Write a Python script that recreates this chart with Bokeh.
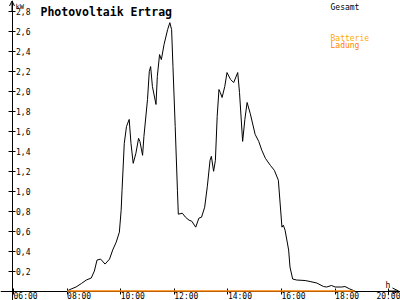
from bokeh.plotting import figure
from bokeh.models import (Range1d, FixedTicker, Label, Arrow, OpenHead)
from bokeh.embed import file_html
from bokeh.resources import INLINE

# ---------------- data ----------------
gesamt_times = ["08:00", "08:09", "08:20", "08:32", "08:43", "08:54", "09:01", "09:07",
                "09:15", "09:25", "09:35", "09:42", "09:50", "09:57", "10:01", "10:03",
                "10:08", "10:13", "10:19", "10:23", "10:28", "10:34", "10:40", "10:43",
                "10:49", "10:52", "11:00", "11:04", "11:07", "11:11", "11:19", "11:22",
                "11:27", "11:31", "11:37", "11:45", "11:50", "11:54", "11:57", "12:02",
                "12:07", "12:09", "12:18", "12:25", "12:33", "12:39", "12:48", "12:55",
                "13:01", "13:08", "13:14", "13:20", "13:23", "13:28", "13:32", "13:36",
                "13:40", "13:43", "13:47", "13:53", "13:58", "14:06", "14:13", "14:22",
                "14:26", "14:33", "14:38", "14:43", "14:50", "15:01", "15:09", "15:16",
                "15:24", "15:35", "15:44", "15:53", "16:01", "16:04", "16:08", "16:16",
                "16:19", "16:25", "16:34", "16:53", "17:04", "17:19", "17:34", "17:41",
                "17:52", "18:00", "18:15", "18:22", "18:33", "18:44"]
gesamt_kw = [0.00, 0.02, 0.04, 0.075, 0.11, 0.13, 0.20, 0.31,
             0.32, 0.27, 0.32, 0.41, 0.49, 0.59, 0.81, 1.01,
             1.48, 1.65, 1.72, 1.48, 1.28, 1.38, 1.53, 1.50,
             1.36, 1.55, 1.92, 2.20, 2.25, 2.05, 1.87, 2.15,
             2.37, 2.32, 2.47, 2.62, 2.69, 2.62, 2.25, 1.65,
             1.01, 0.77, 0.78, 0.74, 0.71, 0.70, 0.64, 0.73,
             0.74, 0.84, 1.05, 1.31, 1.35, 1.20, 1.31, 1.75,
             2.02, 1.99, 1.94, 2.05, 2.19, 2.12, 2.09, 2.19,
             1.99, 1.50, 1.72, 1.89, 1.78, 1.57, 1.50, 1.41,
             1.33, 1.26, 1.21, 1.11, 0.64, 0.66, 0.61, 0.41,
             0.24, 0.12, 0.11, 0.105, 0.095, 0.08, 0.045, 0.04,
             0.055, 0.04, 0.04, 0.045, 0.02, 0.00]
ladung_times = ["08:00", "18:44"]
ladung_kw = [0.0, 0.0]

x_ticks = [6, 8, 10, 12, 14, 16, 18, 20]
x_tick_labels = ["06:00", "08:00", "10:00", "12:00", "14:00", "16:00", "18:00", "20:00"]
y_ticks = [0.2, 0.4, 0.6, 0.8, 1.0, 1.2, 1.4, 1.6, 1.8, 2.0, 2.2, 2.4, 2.6, 2.8]
y_tick_labels = ["0,2", "0,4", "0,6", "0,8", "1,0", "1,2", "1,4", "1,6", "1,8",
                 "2,0", "2,2", "2,4", "2,6", "2,8"]

title_text = "Photovoltaik Ertrag"
legend_texts = ["Gesamt", "Batterie", "Ladung"]
legend_colors = ["#000000", "#FFAA00", "#FF8000"]


def to_h(s):
    hh, mm = s.split(":")
    return int(hh) + int(mm) / 60.0


MONO = "DejaVu Sans Mono"
PX_H = 26.8      # pixels per hour
PX_KW = 99.75    # pixels per kW
X0 = 6 - 13 / PX_H
X1 = X0 + 400 / PX_H
Y1 = 290.5 / PX_KW
Y0 = -9.5 / PX_KW
X_AXIS_AT = 6 - 1.5 / PX_H


def hx(px):
    return X0 + px / PX_H


def vy(py):
    return (290.5 - py) / PX_KW


p = figure(width=400, height=300, output_backend="svg", toolbar_location=None,
           x_range=Range1d(X0, X1), y_range=Range1d(Y0, Y1),
           x_axis_location="below", y_axis_location="right",
           min_border_left=0, min_border_right=0, min_border_top=0, min_border_bottom=0)
p.background_fill_color = "white"
p.border_fill_color = "white"
p.outline_line_color = None
p.xgrid.visible = False
p.ygrid.visible = False

xa = p.xaxis[0]
ya = p.yaxis[0]
xa.fixed_location = 0
ya.fixed_location = X_AXIS_AT
for ax in (xa, ya):
    ax.level = "underlay"
    ax.axis_line_color = "black"
    ax.major_tick_line_color = "black"
    ax.minor_tick_line_color = None
    ax.major_label_text_font = MONO
    ax.major_label_text_font_size = "8px"
    ax.major_label_text_color = "black"
xa.ticker = FixedTicker(ticks=x_ticks)
ya.ticker = FixedTicker(ticks=y_ticks)
xa.major_label_overrides = dict(zip(x_ticks, x_tick_labels))
ya.major_label_overrides = dict(zip(y_ticks, y_tick_labels))
xa.major_tick_in = 3
xa.major_tick_out = 3
xa.major_label_standoff = 2
xa.major_label_orientation = -0.0001
ya.major_tick_in = 4
ya.major_tick_out = 3
ya.major_label_standoff = 1

# series
p.line([to_h(t) for t in gesamt_times], gesamt_kw, line_color="black", line_width=1)
p.line([to_h(t) for t in ladung_times], ladung_kw, line_color=legend_colors[2], line_width=1.6)

# axis arrows
p.add_layout(Arrow(end=OpenHead(size=6, line_color="black", line_width=1),
                   x_start=20.0, y_start=0, x_end=hx(398), y_end=0,
                   line_color="black", line_width=1))
p.add_layout(Arrow(end=OpenHead(size=5, line_color="black", line_width=1),
                   x_start=X_AXIS_AT, y_start=2.8, x_end=X_AXIS_AT, y_end=vy(0.5),
                   line_color="black", line_width=1))

# unit labels
p.add_layout(Label(x=hx(15), y=vy(6.7), text="kW", text_font=MONO,
                   text_font_size="7px", text_color="black", text_baseline="alphabetic"))
p.add_layout(Label(x=hx(385), y=vy(284.5), text="h", text_font=MONO,
                   text_font_size="8px", text_color="black", text_baseline="alphabetic"))

# title
p.add_layout(Label(x=hx(40), y=vy(11.7), text=title_text, text_font=MONO,
                   text_font_size="11.5px", text_font_style="bold", text_color="black",
                   text_baseline="alphabetic"))

# legend texts
for txt, col, py in zip(legend_texts, legend_colors, [6.7, 38.3, 45.3]):
    p.add_layout(Label(x=hx(330), y=vy(py), text=txt, text_font=MONO,
                       text_font_size="8px", text_color=col, text_baseline="alphabetic"))

open("out.html", "w").write(file_html(p, INLINE))
